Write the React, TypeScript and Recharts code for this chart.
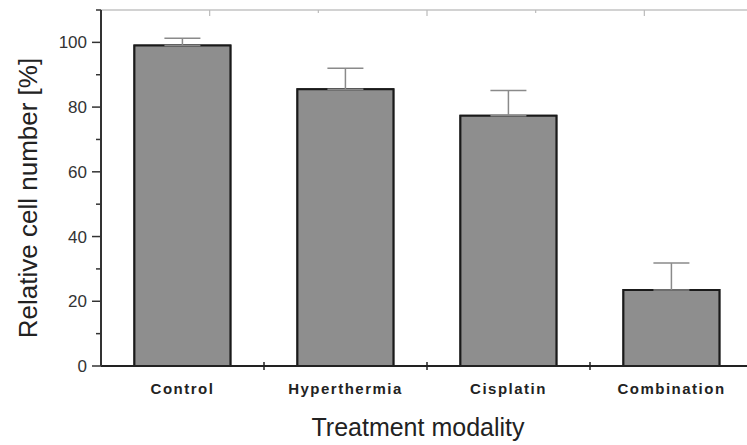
import { Bar, BarChart, ErrorBar, XAxis, YAxis } from 'recharts';

const categories = ['Control', 'Hyperthermia', 'Cisplatin', 'Combination'];
const cellNumber = [99, 85.5, 77.3, 23.5];
const errorUp = [2.3, 6.5, 7.8, 8.3];
const yTicks = [0, 10, 20, 30, 40, 50, 60, 70, 80, 90, 100, 110];
const topTicks = [0.5, 1, 1.5, 2, 2.5, 3, 3.5];

const data = categories.map((name, i) => ({ name, value: cellNumber[i], err: [0, errorUp[i]] }));

const font = '"Liberation Sans", Arial, sans-serif';

function LeftTick({ x, y, payload }: any) {
  const major = payload.value % 20 === 0;
  return (
    <g>
      <line x1={x - (major ? 9 : 5)} x2={x} y1={y} y2={y} stroke="#333" strokeWidth={1.5} />
      {major && (
        <text x={x - 14} y={y} dy={6} textAnchor="end" fontSize={17} fill="#333" fontFamily={font}>
          {payload.value}
        </text>
      )}
    </g>
  );
}

function RightTick({ x, y, payload }: any) {
  const major = payload.value % 20 === 0;
  return (
    <line x1={x - (major ? 10 : 7)} x2={x} y1={y} y2={y} stroke={major ? '#444' : '#aaa'} strokeWidth={1.5} />
  );
}

function TopTick({ x, y, payload }: any) {
  const major = payload.value % 1 !== 0;
  return <line x1={x} x2={x} y1={y} y2={y + (major ? 6 : 3)} stroke="#bbb" strokeWidth={1.2} />;
}

// category label plus a small tick on the band boundary to its right
function BottomTick({ x, y, payload }: any) {
  const half = payload.offset || 0;
  const last = payload.index === categories.length - 1;
  return (
    <g>
      {!last && half > 0 && (
        <line x1={x + half} x2={x + half} y1={y - 4} y2={y + 4} stroke="#222" strokeWidth={1.5} />
      )}
      <text x={x} y={y + 28} textAnchor="middle" fontSize={15} fontWeight="bold" letterSpacing={1.5} fill="#222" fontFamily={font}>
        {payload.value}
      </text>
    </g>
  );
}

function YLabel({ viewBox }: any) {
  const cx = viewBox.x + 28;
  const cy = viewBox.y + viewBox.height / 2 + 10;
  return (
    <text x={cx} y={cy} transform={`rotate(-90 ${cx} ${cy})`} textAnchor="middle" dominantBaseline="central" fontSize={26} fill="#222" fontFamily={font}>
      Relative cell number [%]
    </text>
  );
}

function XLabel({ viewBox }: any) {
  const cx = viewBox.x + viewBox.width / 2 - 9;
  const cy = viewBox.y + 70;
  return (
    <text x={cx} y={cy} textAnchor="middle" fontSize={25} fill="#222" fontFamily={font}>
      Treatment modality
    </text>
  );
}

export default function App() {
  return (
    <div style={{ position: 'absolute', left: 0, top: 0, width: 747, height: 445, overflow: 'hidden', background: '#fff' }}>
      <BarChart width={780} height={445} data={data} margin={{ top: 9, right: 0, bottom: 0, left: 0 }} barCategoryGap="20.5%">
        <XAxis
          dataKey="name"
          height={79}
          tickSize={0}
          tickMargin={0}
          tickLine={false}
          axisLine={{ stroke: '#222', strokeWidth: 2 }}
          tick={<BottomTick />}
          label={<XLabel />}
        />
        <XAxis xAxisId="over" dataKey="name" hide />
        <XAxis
          xAxisId="top"
          type="number"
          orientation="top"
          domain={[0, categories.length]}
          allowDataOverflow
          ticks={topTicks}
          height={1}
          tickSize={0}
          tickMargin={0}
          tickLine={false}
          axisLine={{ stroke: '#d2d2d2', strokeWidth: 2 }}
          tick={<TopTick />}
        />
        <YAxis
          yAxisId="left"
          domain={[0, 110]}
          ticks={yTicks}
          width={101}
          tickSize={0}
          tickMargin={0}
          tickLine={false}
          axisLine={{ stroke: '#333', strokeWidth: 2 }}
          tick={<LeftTick />}
          label={<YLabel />}
        />
        <YAxis
          yAxisId="right"
          orientation="right"
          domain={[0, 110]}
          ticks={yTicks}
          width={27}
          tickSize={0}
          tickMargin={0}
          tickLine={false}
          axisLine={{ stroke: '#bbb' }}
          tick={<RightTick />}
        />
        <Bar dataKey="value" yAxisId="left" fill="#8e8e8e" stroke="#1a1a1a" strokeWidth={2} isAnimationActive={false}>
          <ErrorBar dataKey="err" width={18} stroke="#8a8a8a" strokeWidth={1.5} direction="y" isAnimationActive={false} />
        </Bar>
        <Bar dataKey="value" xAxisId="over" yAxisId="left" fill="#8e8e8e" stroke="#1a1a1a" strokeWidth={2} isAnimationActive={false} />
      </BarChart>
    </div>
  );
}
